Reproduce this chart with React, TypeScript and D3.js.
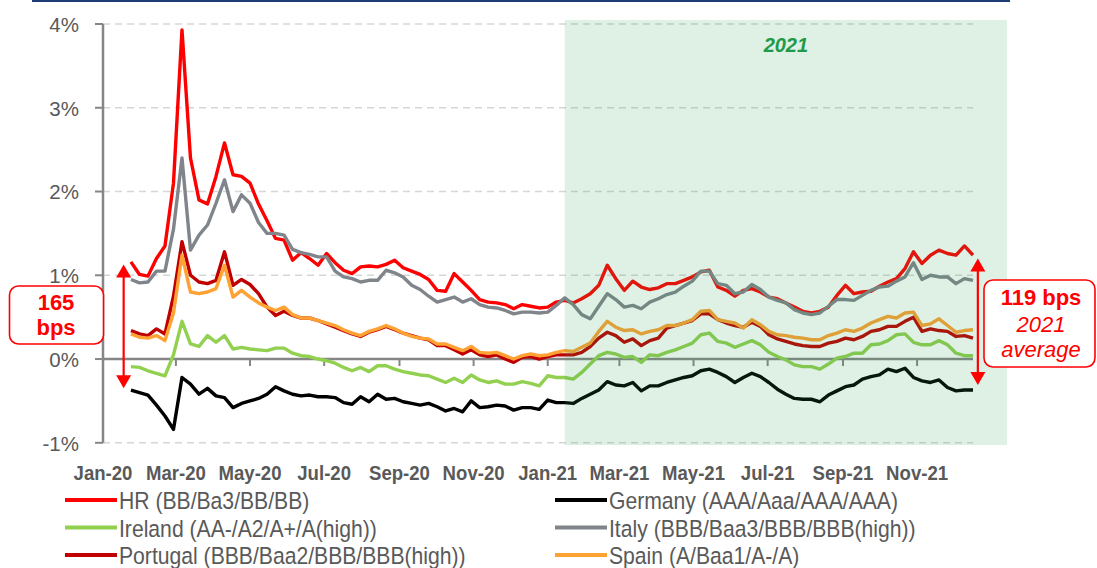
import React from 'react';
import * as d3 from 'd3';

// weekly (Friday) observations, spreads vs. Bund-like benchmark, in %
const firstObs = '2020-01-24';
const lastObs = '2021-12-17';

const hr = [
  1.16, 1.01, 0.99, 1.20, 1.35, 2.10, 3.93, 2.40, 1.90, 1.85,
  2.18, 2.58, 2.20, 2.18, 2.10, 1.85, 1.65, 1.44, 1.42, 1.18,
  1.27, 1.20, 1.12, 1.26, 1.15, 1.06, 1.02, 1.10, 1.11, 1.10,
  1.13, 1.18, 1.09, 1.05, 1.01, 0.95, 0.82, 0.81, 1.02, 0.92,
  0.82, 0.71, 0.68, 0.67, 0.65, 0.60, 0.65, 0.63, 0.61, 0.62,
  0.68, 0.70, 0.67, 0.72, 0.78, 0.88, 1.12, 0.96, 0.82, 0.93,
  0.86, 0.83, 0.85, 0.90, 0.90, 0.94, 0.98, 1.04, 1.06, 0.86,
  0.82, 0.75, 0.82, 0.84, 0.80, 0.74, 0.72, 0.67, 0.62, 0.57,
  0.55, 0.57, 0.62, 0.76, 0.88, 0.78, 0.80, 0.81, 0.87, 0.92,
  0.96, 1.08, 1.28, 1.14, 1.24, 1.30, 1.26, 1.24, 1.35, 1.24,
];

const germany = [
  -0.37, -0.40, -0.43, -0.55, -0.68, -0.84, -0.22, -0.30, -0.42, -0.35,
  -0.44, -0.46, -0.58, -0.53, -0.50, -0.47, -0.42, -0.33, -0.38, -0.42,
  -0.44, -0.43, -0.45, -0.45, -0.46, -0.52, -0.54, -0.45, -0.51, -0.42,
  -0.48, -0.47, -0.51, -0.53, -0.55, -0.53, -0.57, -0.62, -0.59, -0.63,
  -0.50, -0.58, -0.57, -0.55, -0.56, -0.61, -0.58, -0.58, -0.60, -0.49,
  -0.52, -0.52, -0.53, -0.47, -0.42, -0.37, -0.27, -0.31, -0.32, -0.28,
  -0.38, -0.32, -0.32, -0.28, -0.25, -0.22, -0.20, -0.14, -0.12, -0.16,
  -0.21, -0.28, -0.22, -0.17, -0.21, -0.28, -0.36, -0.42, -0.47, -0.48,
  -0.48, -0.51, -0.43, -0.38, -0.33, -0.31, -0.24, -0.21, -0.19, -0.12,
  -0.15, -0.11, -0.22, -0.26, -0.28, -0.25, -0.34, -0.38, -0.37, -0.37,
];

const ireland = [
  -0.09, -0.10, -0.14, -0.17, -0.20, 0.05, 0.45, 0.18, 0.15, 0.28,
  0.20, 0.28, 0.12, 0.14, 0.12, 0.11, 0.10, 0.13, 0.13, 0.07,
  0.04, 0.03, 0.00, -0.02, -0.05, -0.10, -0.14, -0.10, -0.15, -0.08,
  -0.08, -0.12, -0.15, -0.17, -0.19, -0.20, -0.24, -0.28, -0.23, -0.28,
  -0.19, -0.25, -0.28, -0.26, -0.30, -0.30, -0.27, -0.29, -0.32, -0.20,
  -0.22, -0.22, -0.24, -0.16, -0.06, 0.04, 0.08, 0.06, 0.02, 0.03,
  -0.04, 0.05, 0.04, 0.08, 0.11, 0.15, 0.19, 0.29, 0.31, 0.21,
  0.19, 0.14, 0.18, 0.22, 0.17, 0.08, 0.03, -0.01, -0.07, -0.09,
  -0.09, -0.12, -0.06, 0.01, 0.03, 0.07, 0.07, 0.17, 0.18, 0.22,
  0.29, 0.30, 0.20, 0.17, 0.17, 0.22, 0.17, 0.07, 0.04, 0.04,
];

const italy = [
  0.95, 0.91, 0.92, 1.05, 1.05, 1.55, 2.40, 1.30, 1.48, 1.60,
  1.86, 2.14, 1.76, 1.96, 1.86, 1.63, 1.50, 1.50, 1.48, 1.31,
  1.27, 1.25, 1.22, 1.22, 1.05, 0.98, 0.96, 0.92, 0.94, 0.94,
  1.06, 1.03, 0.98, 0.88, 0.83, 0.75, 0.68, 0.71, 0.74, 0.68,
  0.72, 0.65, 0.62, 0.61, 0.58, 0.54, 0.56, 0.56, 0.55, 0.56,
  0.64, 0.73, 0.65, 0.53, 0.48, 0.63, 0.78, 0.71, 0.62, 0.64,
  0.60, 0.68, 0.72, 0.77, 0.80, 0.87, 0.93, 1.05, 1.05, 0.90,
  0.88, 0.78, 0.80, 0.89, 0.83, 0.74, 0.70, 0.67, 0.59, 0.55,
  0.53, 0.55, 0.63, 0.71, 0.71, 0.70, 0.76, 0.82, 0.86, 0.87,
  0.93, 0.98, 1.15, 0.95, 1.00, 0.98, 0.98, 0.90, 0.96, 0.94,
];

const portugal = [
  0.34, 0.30, 0.28, 0.36, 0.30, 0.75, 1.40, 1.00, 0.92, 0.90,
  0.94, 1.28, 0.88, 0.95, 0.89, 0.78, 0.62, 0.52, 0.57, 0.52,
  0.49, 0.49, 0.46, 0.42, 0.38, 0.34, 0.30, 0.27, 0.32, 0.35,
  0.39, 0.35, 0.31, 0.28, 0.25, 0.23, 0.16, 0.16, 0.11, 0.06,
  0.11, 0.05, 0.03, 0.05, 0.00, -0.04, 0.02, 0.03, 0.00, 0.03,
  0.05, 0.05, 0.05, 0.08, 0.15, 0.25, 0.32, 0.28, 0.20, 0.24,
  0.16, 0.22, 0.25, 0.37, 0.40, 0.43, 0.46, 0.54, 0.54, 0.47,
  0.43, 0.40, 0.38, 0.44, 0.39, 0.29, 0.24, 0.21, 0.18, 0.16,
  0.15, 0.15, 0.19, 0.21, 0.25, 0.23, 0.27, 0.33, 0.35, 0.39,
  0.39, 0.45, 0.50, 0.33, 0.36, 0.34, 0.33, 0.27, 0.28, 0.25,
];

const spain = [
  0.30, 0.26, 0.25, 0.28, 0.22, 0.55, 1.24, 0.80, 0.78, 0.80,
  0.84, 1.12, 0.74, 0.82, 0.74, 0.67, 0.62, 0.58, 0.62, 0.53,
  0.49, 0.49, 0.46, 0.43, 0.40, 0.35, 0.31, 0.28, 0.33, 0.36,
  0.40, 0.36, 0.31, 0.27, 0.25, 0.24, 0.18, 0.18, 0.14, 0.10,
  0.15, 0.08, 0.07, 0.08, 0.04, 0.00, 0.04, 0.06, 0.04, 0.05,
  0.08, 0.10, 0.09, 0.14, 0.19, 0.33, 0.45, 0.38, 0.34, 0.35,
  0.30, 0.33, 0.35, 0.40, 0.40, 0.43, 0.47, 0.57, 0.58, 0.47,
  0.45, 0.43, 0.37, 0.47, 0.41, 0.33, 0.29, 0.28, 0.26, 0.25,
  0.23, 0.23, 0.28, 0.31, 0.35, 0.33, 0.37, 0.43, 0.47, 0.51,
  0.49, 0.55, 0.56, 0.40, 0.42, 0.48, 0.40, 0.32, 0.34, 0.35,
];

const seriesNames = [
  'HR (BB/Ba3/BB/BB)',
  'Germany (AAA/Aaa/AAA/AAA)',
  'Ireland (AA-/A2/A+/A(high))',
  'Italy (BBB/Baa3/BBB/BBB(high))',
  'Portugal (BBB/Baa2/BBB/BBB(high))',
  'Spain (A/Baa1/A-/A)',
];
const seriesColors = ['#ff0000', '#000000', '#92d050', '#80858b', '#c00000', '#ffa234'];

const xTicks = [
  '2020-01-01', '2020-03-01', '2020-05-01', '2020-07-01', '2020-09-01', '2020-11-01',
  '2021-01-01', '2021-03-01', '2021-05-01', '2021-07-01', '2021-09-01', '2021-11-01',
];
const yTicks = [-1, 0, 1, 2, 3, 4];

// 2021 highlight band and the two range markers
const band = { from: '2021-01-15', to: '2022-01-14', label: '2021' };
const leftRange = { date: '2020-01-18', top: 1.13, bottom: -0.35, lines: ['165', 'bps'] };
const rightRange = { date: '2021-12-21', top: 1.2, bottom: -0.31, lines: ['119 bps', '2021', 'average'] };

const FONT = '"Liberation Sans", Arial, Helvetica, sans-serif';
const GREY = '#595959';
const AXIS = '#868686';

const parse = d3.utcParse('%Y-%m-%d');
const fmt = d3.utcFormat('%b-%y');

export default function App() {
  const width = 1097;
  const height = 568;

  const x = d3.scaleUtc().domain([parse('2020-01-01'), parse(lastObs)]).range([103, 973]);
  const y = d3.scaleLinear().domain([-1, 4]).range([442.8, 24]);

  const dates = d3.utcFriday.range(parse(firstObs), d3.utcDay.offset(parse(lastObs), 1));
  const all = [hr, germany, ireland, italy, portugal, spain];
  const series = all.map((vals, i) => ({
    name: seriesNames[i],
    color: seriesColors[i],
    points: vals.slice(0, dates.length).map((v, j) => [dates[j], v] as [Date, number]),
  }));

  const line = d3
    .line<[Date, number]>()
    .x((d) => x(d[0]))
    .y((d) => y(d[1]))
    .curve(d3.curveLinear);

  const [x0, x1] = x.range();
  const bandX0 = x(parse(band.from));
  const bandX1 = x(parse(band.to));

  const arrow = (cx: number, yTop: number, yBot: number) => (
    <g>
      <line x1={cx} x2={cx} y1={yTop + 10} y2={yBot - 10} stroke="#ff0000" strokeWidth={2.2} />
      <path d={`M${cx},${yTop} L${cx - 7.5},${yTop + 13} L${cx + 7.5},${yTop + 13} Z`} fill="#ff0000" />
      <path d={`M${cx},${yBot} L${cx - 7.5},${yBot - 13} L${cx + 7.5},${yBot - 13} Z`} fill="#ff0000" />
    </g>
  );

  const lx = x(parse(leftRange.date));
  const rx = x(parse(rightRange.date));

  const legendCols = [65, 555];
  const legendRows = [500, 527.5, 555];

  return (
    <svg
      width={width}
      height={height}
      style={{ position: 'absolute', left: 0, top: 0, display: 'block', background: '#fff' }}
      fontFamily={FONT}
    >
      <line x1={32} x2={1010} y1={1} y2={1} stroke="#1f3c74" strokeWidth={2} />

      {/* gridlines */}
      {yTicks
        .filter((t) => t !== 0)
        .map((t) => (
          <line
            key={'g' + t}
            x1={x0}
            x2={x1}
            y1={y(t)}
            y2={y(t)}
            stroke="#d6d6d6"
            strokeWidth={1.5}
            strokeDasharray="7,5"
          />
        ))}

      {/* y axis */}
      <line x1={x0} x2={x0} y1={y(4)} y2={y(-1)} stroke={AXIS} strokeWidth={2.5} />
      {yTicks.map((t) => (
        <g key={'y' + t}>
          <line x1={x0 - 8} x2={x0} y1={y(t)} y2={y(t)} stroke={AXIS} strokeWidth={2} />
          <text x={79} y={y(t)} dy="0.38em" textAnchor="end" fontSize={20.5} fill={GREY}>
            {`${t}%`}
          </text>
        </g>
      ))}

      {/* x axis at 0% */}
      <line x1={x0} x2={x1} y1={y(0)} y2={y(0)} stroke={AXIS} strokeWidth={2.5} />
      {xTicks.map((t) => {
        const px = x(parse(t));
        return (
          <g key={'x' + t}>
            {px > x0 + 1 && <line x1={px} x2={px} y1={y(0)} y2={y(0) + 7} stroke={AXIS} strokeWidth={2} />}
            <text
              transform={`translate(${px},480) scale(0.93,1)`}
              textAnchor="middle"
              fontSize={20}
              fontWeight="bold"
              fill={GREY}
            >
              {fmt(parse(t))}
            </text>
          </g>
        );
      })}

      {/* series */}
      {series.map((s) => (
        <path
          key={s.name}
          d={line(s.points) || ''}
          fill="none"
          stroke={s.color}
          strokeWidth={3.4}
          strokeLinejoin="round"
        />
      ))}

      {/* 2021 band, drawn over the lines like the original */}
      <rect x={bandX0} y={20} width={bandX1 - bandX0} height={425} fill="rgb(42,155,82)" fillOpacity={0.15} />
      <text
        x={(bandX0 + bandX1) / 2}
        y={52}
        textAnchor="middle"
        fontSize={20}
        fontWeight="bold"
        fontStyle="italic"
        fill="#1f9a48"
      >
        {band.label}
      </text>

      {/* left range marker */}
      {arrow(lx, y(leftRange.top), y(leftRange.bottom))}
      <rect x={9.5} y={286} width={94} height={58} rx={9} fill="#fff" stroke="#ff0000" strokeWidth={1.6} />
      <text x={56} y={310} textAnchor="middle" fontSize={22} fontWeight="bold" fill="#ff0000">
        {leftRange.lines[0]}
      </text>
      <text x={56} y={335} textAnchor="middle" fontSize={22} fontWeight="bold" fill="#ff0000">
        {leftRange.lines[1]}
      </text>

      {/* right range marker */}
      {arrow(rx, y(rightRange.top), y(rightRange.bottom))}
      <rect x={984} y={280} width={111} height={87} rx={9} fill="#fff" stroke="#ff0000" strokeWidth={1.6} />
      <text x={1041} y={305} textAnchor="middle" fontSize={22} fontWeight="bold" fill="#ff0000">
        {rightRange.lines[0]}
      </text>
      <text x={1041} y={332} textAnchor="middle" fontSize={22} fontStyle="italic" fill="#ff0000">
        {rightRange.lines[1]}
      </text>
      <text x={1041} y={357} textAnchor="middle" fontSize={22} fontStyle="italic" fill="#ff0000">
        {rightRange.lines[2]}
      </text>

      {/* legend */}
      {series.map((s, i) => {
        const lx0 = legendCols[i % 2];
        const ly = legendRows[Math.floor(i / 2)];
        return (
          <g key={'l' + s.name}>
            <line x1={lx0} x2={lx0 + 52} y1={ly} y2={ly} stroke={s.color} strokeWidth={4} />
            <text
              transform={`translate(${lx0 + 54},${ly + 9}) scale(0.9,1)`}
              fontSize={23.5}
              fill={GREY}
            >
              {s.name}
            </text>
          </g>
        );
      })}
    </svg>
  );
}
